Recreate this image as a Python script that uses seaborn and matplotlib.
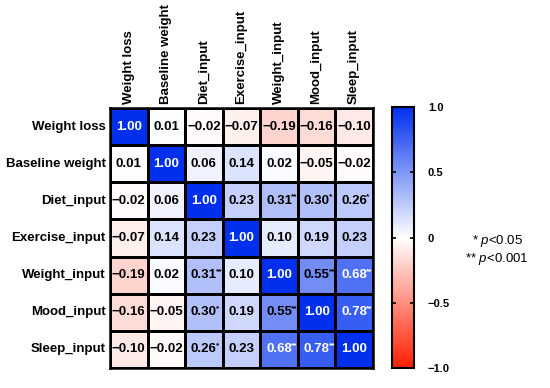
import matplotlib

matplotlib.use("Agg")
import matplotlib.pyplot as plt
import numpy as np
import pandas as pd
import seaborn as sns
from matplotlib.colors import LinearSegmentedColormap

variables = [
    "Weight loss",
    "Baseline weight",
    "Diet_input",
    "Exercise_input",
    "Weight_input",
    "Mood_input",
    "Sleep_input",
]
corr_values = [
    [1.00, 0.01, -0.02, -0.07, -0.19, -0.16, -0.10],
    [0.01, 1.00, 0.06, 0.14, 0.02, -0.05, -0.02],
    [-0.02, 0.06, 1.00, 0.23, 0.31, 0.30, 0.26],
    [-0.07, 0.14, 0.23, 1.00, 0.10, 0.19, 0.23],
    [-0.19, 0.02, 0.31, 0.10, 1.00, 0.55, 0.68],
    [-0.16, -0.05, 0.30, 0.19, 0.55, 1.00, 0.78],
    [-0.10, -0.02, 0.26, 0.23, 0.68, 0.78, 1.00],
]
# significance stars per cell ("" none, "*" p<0.05, "**" p<0.001)
stars = [
    ["", "", "", "", "", "", ""],
    ["", "", "", "", "", "", ""],
    ["", "", "", "", "**", "*", "*"],
    ["", "", "", "", "", "", ""],
    ["", "", "**", "", "", "**", "**"],
    ["", "", "*", "", "**", "", "**"],
    ["", "", "*", "", "**", "**", ""],
]
cbar_ticks = [-1.0, -0.5, 0.0, 0.5, 1.0]
cbar_labels = ["\u22121.0", "\u22120.5", "0", "0.5", "1.0"]

plt.rcParams["font.family"] = ["Liberation Sans", "DejaVu Sans"]
plt.rcParams["mathtext.fontset"] = "custom"
plt.rcParams["mathtext.rm"] = "Liberation Sans"
plt.rcParams["mathtext.it"] = "Liberation Sans:italic"

df = pd.DataFrame(corr_values, index=variables, columns=variables)
labels = np.array([[f"{v:.2f}".replace("-", "\u2212") for v in row] for row in corr_values])

cmap = LinearSegmentedColormap.from_list("rwb", ["#ff1e00", "#ffffff", "#0030ee"])

fig = plt.figure(figsize=(5.5, 3.88), dpi=100)
ax = fig.add_axes([0.2, 0.0515, 0.478, 0.67])
cax = fig.add_axes([0.7127, 0.0515, 0.04, 0.672])

sns.heatmap(
    df,
    ax=ax,
    cbar_ax=cax,
    cmap=cmap,
    vmin=-1,
    vmax=1,
    annot=labels,
    fmt="",
    linewidths=0.9,
    linecolor="black",
    annot_kws={"fontsize": 9.5, "fontweight": "bold"},
)

vals = np.array(corr_values)
# white text on dark cells
for t, v in zip(ax.texts, vals.ravel()):
    t.set_color("white" if v >= 0.65 else "black")

# significance stars as small superscripts after each number
for i, srow in enumerate(stars):
    for j, s in enumerate(srow):
        if s:
            ax.text(j + 0.5 + 0.32, i + 0.5 - 0.1, s, ha="left", va="center",
                    fontsize=6, fontweight="bold",
                    color="white" if vals[i, j] >= 0.65 else "black")

ax.xaxis.tick_top()
ax.set_xticklabels(variables, rotation=90, fontsize=9.5, fontweight="bold")
ax.set_yticklabels(variables, rotation=0, fontsize=9.5, fontweight="bold")
ax.tick_params(length=0, pad=3)
ax.set_xlabel("")
ax.set_ylabel("")
for sp in ax.spines.values():
    sp.set_visible(True)
    sp.set_linewidth(1.8)
    sp.set_color("black")

cbar = ax.collections[0].colorbar
cbar.set_ticks(cbar_ticks)
cbar.set_ticklabels(cbar_labels, fontsize=8, fontweight="bold")
cbar.outline.set_linewidth(1.5)
cbar.outline.set_edgecolor("black")
cax.tick_params(direction="in", left=True, right=True, length=3, width=1.2, pad=10)
for lbl in cax.get_yticklabels():
    lbl.set_horizontalalignment("left")

fig.text(0.904, 0.356, "* $p$<0.05\n** $p$<0.001", ha="center", va="center",
         fontsize=9.5, linespacing=1.15)

fig.savefig("out.png", dpi=100)
